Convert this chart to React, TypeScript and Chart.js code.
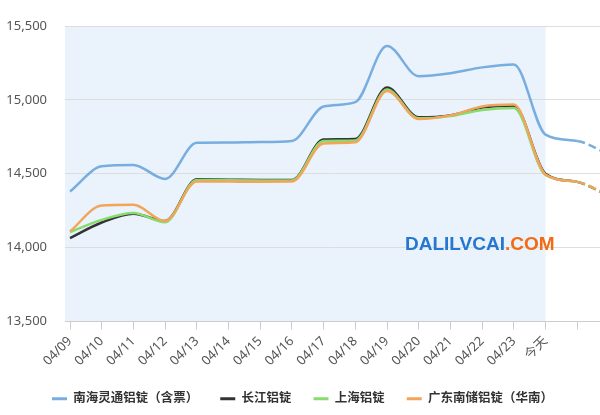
import React, { useEffect, useRef } from "react";
import { Chart, registerables } from "chart.js";

Chart.register(...registerables);

const categories = ["04/09", "04/10", "04/11", "04/12", "04/13", "04/14", "04/15", "04/16", "04/17", "04/18", "04/19", "04/20", "04/21", "04/22", "04/23", "今天", "", ""];
const nanhai = [14380, 14550, 14560, 14465, 14710, 14712, 14715, 14722, 14955, 14985, 15365, 15160, 15180, 15220, 15240, 14765, 14722, 14630];
const changjiang = [14065, 14170, 14230, 14180, 14462, 14460, 14458, 14458, 14732, 14735, 15083, 14882, 14895, 14948, 14960, 14500, 14445, 14350];
const shanghai = [14105, 14188, 14235, 14172, 14458, 14456, 14455, 14455, 14722, 14725, 15070, 14875, 14890, 14932, 14945, 14492, 14445, 14350];
const guangdong = [14110, 14285, 14290, 14180, 14448, 14447, 14446, 14447, 14705, 14713, 15060, 14870, 14895, 14955, 14968, 14495, 14445, 14350];
const seriesNames = ["南海灵通铝锭（含票）", "长江铝锭", "上海铝锭", "广东南储铝锭（华南）"];
const yTicks = [13500, 14000, 14500, 15000, 15500];
const todayIndex = 15;

const colors = ["#78ade0", "#333333", "#86dc6c", "#f2a55a"];
const FONT = '"Noto Sans", "Noto Sans CJK SC", sans-serif';

export default function App() {
  const ref = useRef<HTMLCanvasElement | null>(null);

  useEffect(() => {
    if (!ref.current) return;
    const spacing = 31.7;
    const xMin = -5 / spacing;
    const xMax = xMin + 535 / spacing;

    const shade = {
      id: "shade",
      beforeDraw(chart: any) {
        const { ctx, chartArea, scales } = chart;
        const xr = scales.x.getPixelForValue(todayIndex);
        ctx.save();
        ctx.fillStyle = "#eaf2fb";
        ctx.fillRect(chartArea.left, chartArea.top, xr - chartArea.left, chartArea.bottom - chartArea.top);
        ctx.restore();
      },
    };

    const allSeries = [nanhai, changjiang, shanghai, guangdong];
    const datasets = allSeries.map((s, k) => ({
      label: seriesNames[k],
      data: s.map((v, i) => ({ x: i, y: v })),
      borderColor: colors[k],
      backgroundColor: colors[k],
      borderWidth: 2.5,
      pointRadius: 0,
      pointHoverRadius: 0,
      fill: false,
      cubicInterpolationMode: "monotone" as const,
      order: [3, 2, 1, 0][k],
      segment: {
        borderDash: (c: any) => (c.p0DataIndex >= todayIndex + 1 ? [8, 4] : undefined),
      },
    }));

    const chart = new Chart(ref.current, {
      type: "line",
      data: { datasets },
      options: {
        animation: false,
        responsive: false,
        maintainAspectRatio: false,
        layout: { padding: { left: 5, top: 26, right: 0, bottom: 0 } },
        plugins: {
          tooltip: { enabled: false },
          legend: {
            position: "bottom",
            labels: {
              boxWidth: 15,
              boxHeight: 3,
              padding: 22,
              color: "#333",
              font: { family: FONT, size: 12.5, weight: "bold" },
              sort: (a: any, b: any) => a.datasetIndex - b.datasetIndex,
              generateLabels: (c: any) =>
                Chart.defaults.plugins.legend.labels.generateLabels(c).map((l: any) => ({
                  ...l,
                  lineWidth: 0,
                  strokeStyle: "rgba(0,0,0,0)",
                  lineDash: [],
                })),
            },
          },
        },
        scales: {
          x: {
            type: "linear",
            min: xMin,
            max: xMax,
            afterBuildTicks: (s: any) => {
              s.ticks = categories.map((_, i) => ({ value: i })).filter((t) => t.value <= xMax);
            },
            afterFit: (s: any) => {
              s.height = 49;
            },
            grid: { drawOnChartArea: false, drawTicks: true, tickLength: 8, color: "#cccccc" },
            border: { display: true, color: "#cccccc" },
            ticks: {
              autoSkip: false,
              minRotation: 45,
              maxRotation: 45,
              padding: 4,
              color: "#555",
              font: { family: FONT, size: 13 },
              callback: (v: any) => categories[Number(v)] ?? "",
            },
          },
          y: {
            min: yTicks[0],
            max: yTicks[yTicks.length - 1],
            afterBuildTicks: (s: any) => {
              s.ticks = yTicks.map((v) => ({ value: v }));
            },
            afterFit: (s: any) => {
              s.width = 60;
            },
            grid: { color: "#dddddd", drawTicks: false },
            border: { display: false },
            ticks: {
              padding: 18,
              color: "#555",
              font: { family: FONT, size: 13 },
              callback: (v: any) => Number(v).toLocaleString("en-US"),
            },
          },
        },
      },
      plugins: [shade],
    });
    return () => chart.destroy();
  }, []);

  return (
    <div style={{ position: "fixed", left: 0, top: 0, width: 600, height: 415, overflow: "hidden", background: "#fff" }}>
      <canvas ref={ref} width={600} height={415} style={{ width: 600, height: 415, display: "block" }} />
      <div
        style={{
          position: "absolute",
          left: 405,
          top: 234,
          fontFamily: '"Liberation Sans", Arial, sans-serif',
          fontWeight: "bold",
          fontSize: 19,
          lineHeight: "19px",
          whiteSpace: "nowrap",
        }}
      >
        <span style={{ color: "#2478d2" }}>DALILVCAI</span>
        <span style={{ color: "#f36a12" }}>.COM</span>
      </div>
    </div>
  );
}
